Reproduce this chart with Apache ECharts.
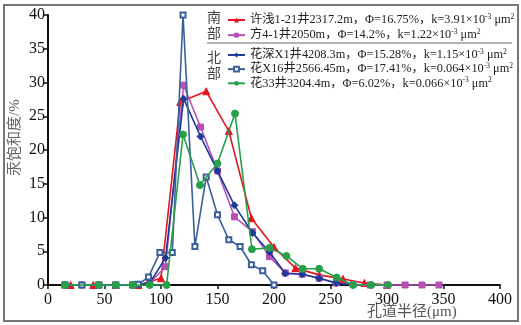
<!DOCTYPE html>
<html>
<head>
<meta charset="utf-8">
<script src="https://cdn.jsdelivr.net/npm/echarts@6/dist/echarts.min.js"></script>
<style>
  * { margin: 0; padding: 0; }
  body { background: #fff; }
  #chart { width: 521px; height: 325px; }
</style>
</head>
<body>
<div id="chart"></div>
<script>
// well info for the legend
const wells = ["许浅1-21井2317.2m", "方4-1井2050m", "花深X1井4208.3m", "花X16井2566.45m", "花33井3204.4m"];
const phi = ["16.75", "14.2", "15.28", "17.41", "6.02"];
const perm = ["3.91", "1.22", "1.15", "0.064", "0.066"];

// [pore radius µm, mercury saturation %]
const xuQian = [[20, 0], [40, 0], [60, 0], [80, 0], [100, 1.0], [117, 27.1], [140, 28.7], [160, 22.8],
  [180, 9.9], [200, 5.6], [219, 2.5], [240, 1.5], [261, 0.9], [280, 0.3], [300, 0]];
const fang = [[15, 0], [30, 0], [45, 0], [60, 0], [75, 0], [90, 0.3], [104, 2.7], [120, 29.6], [135, 23.4],
  [150, 16.9], [165, 10.1], [181, 7.9], [196, 4.2], [210, 1.8], [225, 1.6], [240, 1.0], [255, 0.3],
  [270, 0.1], [285, 0], [300, 0], [316, 0], [331, 0], [346, 0]];
const huaShen = [[15, 0], [30, 0], [45, 0], [60, 0], [75, 0], [90, 0.3], [104, 4.0], [120, 27.6], [135, 22.0],
  [150, 16.9], [165, 11.8], [181, 7.7], [196, 4.9], [210, 1.7], [225, 1.6], [240, 1.0], [255, 0.3], [270, 0]];
const huaX16 = [[15, 0], [30, 0], [45, 0], [60, 0], [75, 0], [80, 0.1], [89, 1.2], [99, 4.8], [110, 4.8],
  [119.5, 40], [130, 5.7], [140, 16.0], [150, 10.4], [160, 6.7], [170, 5.7], [180, 3.0], [190, 2.1], [200, 0]];
const hua33 = [[15, 0], [45, 0], [60, 0], [75, 0], [90, 0], [105, 0], [119.5, 22.3], [134.5, 14.8], [150, 18.0],
  [165.5, 25.4], [180.5, 5.3], [196, 5.5], [211, 4.3], [225.5, 2.4], [240, 2.4], [255.5, 1.1], [270, 0],
  [286, 0], [301, 0]];

const xTicks = { min: 0, max: 400, interval: 50 };
const yTicks = { min: 0, max: 40, interval: 5 };

const serif = "'Liberation Serif', 'Noto Sans CJK SC', serif";
const names = wells.map((w, i) => `${w}，Φ=${phi[i]}%，k=${perm[i]}×10-3 μm2`);

function legendLabel(name) {
  const i = names.indexOf(name);
  return `{n|${wells[i]}，Φ=${phi[i]}%，k=${perm[i]}×10}{s|-3}{n| μm}{s|2}`;
}

const legendText = {
  fontFamily: serif,
  color: "#222",
  rich: {
    n: { fontSize: 12.3, fontFamily: serif, color: "#222", lineHeight: 14 },
    s: { fontSize: 7.5, fontFamily: serif, color: "#222", lineHeight: 14, verticalAlign: "top", padding: [0, 0, 5, 0] },
  },
};

function makeSeries(i, data, symbol, color, size) {
  return {
    name: names[i],
    type: "line",
    data: data,
    symbol: symbol,
    symbolSize: size,
    showAllSymbol: true,
    clip: false,
    lineStyle: { color: color, width: 1.6 },
    itemStyle: { color: color, borderColor: color },
    z: 3 + i,
  };
}

const chart = echarts.init(document.getElementById("chart"), null, { renderer: "canvas" });

const option = {
  animation: false,
  backgroundColor: "#fff",
  grid: { left: 48, right: 21, top: 15, bottom: 40 },
  legend: [
    {
      data: [names[0], names[1]],
      orient: "vertical",
      left: 222,
      top: 8,
      itemGap: 2,
      itemWidth: 17,
      itemHeight: 6,
      formatter: legendLabel,
      textStyle: legendText,
    },
    {
      data: [names[2], names[3], names[4]],
      orient: "vertical",
      left: 222,
      top: 43,
      itemGap: 1,
      itemWidth: 17,
      itemHeight: 6,
      formatter: legendLabel,
      textStyle: legendText,
    },
  ],
  xAxis: {
    type: "value",
    min: xTicks.min,
    max: xTicks.max,
    interval: xTicks.interval,
    axisLine: { onZero: false, lineStyle: { color: "#111", width: 2 } },
    axisTick: { inside: false, length: 4, lineStyle: { color: "#111", width: 1.5 } },
    axisLabel: { color: "#111", fontFamily: serif, fontSize: 16, margin: 7 },
    splitLine: { show: false },
  },
  yAxis: {
    type: "value",
    min: yTicks.min,
    max: yTicks.max,
    interval: yTicks.interval,
    axisLine: { show: true, lineStyle: { color: "#111", width: 2 } },
    axisTick: { show: true, inside: false, length: 4, lineStyle: { color: "#111", width: 1.5 } },
    axisLabel: { color: "#111", fontFamily: serif, fontSize: 16, margin: 3 },
    splitLine: { show: false },
  },
  graphic: [
    {
      type: "rect",
      shape: { x: 4, y: 5, width: 514, height: 316 },
      style: { fill: null, stroke: "#777", lineWidth: 2 },
      z: 100,
    },
    {
      type: "line",
      shape: { x1: 207, y1: 43, x2: 512, y2: 43 },
      style: { stroke: "#666", lineWidth: 1.2 },
    },
    { type: "text", left: 207, top: 11, style: { text: "南", font: "14px " + serif, fill: "#444" } },
    { type: "text", left: 207, top: 27, style: { text: "部", font: "14px " + serif, fill: "#444" } },
    { type: "text", left: 207, top: 51, style: { text: "北", font: "14px " + serif, fill: "#444" } },
    { type: "text", left: 207, top: 67, style: { text: "部", font: "14px " + serif, fill: "#444" } },
    { type: "text", left: 367, top: 305, style: { text: "孔道半径(μm)", font: "15px " + serif, fill: "#555" } },
    {
      type: "text",
      x: 8,
      y: 176,
      rotation: Math.PI / 2,
      style: { text: "汞饱和度/%", font: "15px " + serif, fill: "#666" },
    },
  ],
  series: [
    makeSeries(0, xuQian, "triangle", "#e3151e", 7),
    makeSeries(1, fang, "rect", "#b450b4", 6),
    makeSeries(2, huaShen, "diamond", "#1c3a9a", 7),
    makeSeries(3, huaX16, "emptyRect", "#3b5f99", 5),
    makeSeries(4, hua33, "circle", "#27a04a", 7),
  ],
};

if (option && typeof option === "object") {
  chart.setOption(option);
}
</script>
</body>
</html>
